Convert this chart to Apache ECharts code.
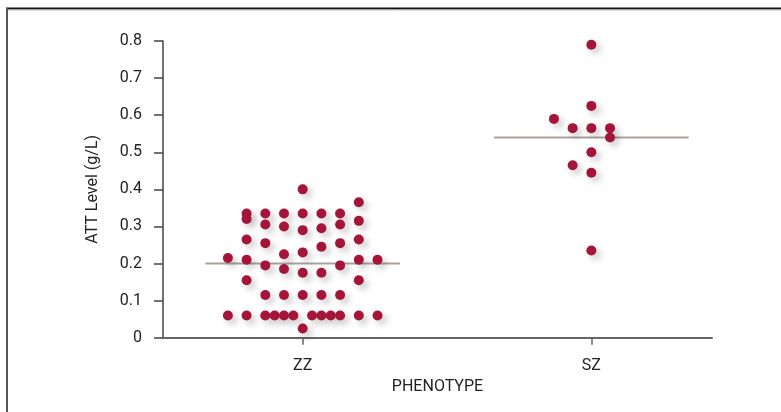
<!DOCTYPE html>
<html>
<head>
<meta charset="utf-8">
<script src="https://cdn.jsdelivr.net/npm/echarts@6/dist/echarts.min.js"></script>
<style>
  html, body { margin: 0; padding: 0; background: #fff; }
  #chart { width: 781px; height: 412px; }
</style>
</head>
<body>
<div id="chart"></div>
<script>
// Phenotype groups (positions 1 and 2 on the horizontal axis)
const categories = ['ZZ', 'SZ'];
const yTicks = [0, 0.1, 0.2, 0.3, 0.4, 0.5, 0.6, 0.7, 0.8];

// ATT level (g/L) per subject, ZZ group
const zzValues = [
  0.40,
  0.365,
  0.335, 0.335, 0.335, 0.335, 0.335, 0.335,
  0.32,
  0.305, 0.30, 0.29, 0.295, 0.305, 0.315,
  0.265, 0.255, 0.225, 0.23, 0.245, 0.255, 0.265,
  0.215, 0.21, 0.195, 0.185, 0.175, 0.175, 0.195, 0.21, 0.21,
  0.155, 0.155,
  0.115, 0.115, 0.115, 0.115, 0.115,
  0.06, 0.06, 0.06, 0.06, 0.06, 0.06, 0.06, 0.06, 0.06, 0.06, 0.06, 0.06,
  0.025
];
// Swarm column of each ZZ point (0 = centre)
const zzColumns = [
  0,
  3,
  -3, -2, -1, 0, 1, 2,
  -3,
  -2, -1, 0, 1, 2, 3,
  -3, -2, -1, 0, 1, 2, 3,
  -4, -3, -2, -1, 0, 1, 2, 3, 4,
  -3, 3,
  -2, -1, 0, 1, 2,
  -4, -3, -2, -1.5, -1, -0.5, 0.5, 1, 1.5, 2, 3, 4,
  0
];

// ATT level (g/L) per subject, SZ group
const szValues = [0.79, 0.625, 0.59, 0.565, 0.565, 0.565, 0.54, 0.50, 0.465, 0.445, 0.235];
const szColumns = [0, 0, -2, -1, 0, 1, 1, 0, -1, 0, 0];

// Group medians
const medians = [0.20, 0.54];

// Horizontal spacing of swarm columns and half-length of median bars (axis units)
const COLUMN_STEP = 0.0648;
const MEDIAN_HALF = 0.337;

function swarm(groupPos, values, cols) {
  return values.map((v, i) => [groupPos + cols[i] * COLUMN_STEP, v]);
}

const dotStyle = {
  color: '#A5153A',
  opacity: 1,
  shadowColor: 'rgba(0,0,0,0.22)',
  shadowBlur: 7,
  shadowOffsetX: 4,
  shadowOffsetY: 4
};

const medianSeries = medians.map((m, i) => ({
  type: 'line',
  data: [[i + 1 - MEDIAN_HALF, m], [i + 1 + MEDIAN_HALF, m]],
  symbol: 'none',
  lineStyle: { color: '#ABA39B', width: 2 },
  z: 1,
  silent: true
}));

const font = 'Roboto, "Noto Sans", sans-serif';

const chart = echarts.init(document.getElementById('chart'), null, { renderer: 'canvas' });
chart.setOption({
  animation: false,
  backgroundColor: '#fff',
  grid: { left: 163, right: 69, top: 41, bottom: 74.3 },
  xAxis: {
    type: 'value',
    min: 0.516,
    max: 2.418,
    splitLine: { show: false },
    name: 'PHENOTYPE',
    nameLocation: 'middle',
    nameGap: 40,
    nameTextStyle: { fontFamily: font, fontSize: 16, color: '#222' },
    axisLine: { show: true, lineStyle: { color: '#666', width: 2 } },
    axisTick: { show: true, customValues: [1, 2], length: 7, lineStyle: { color: '#666', width: 1.5 } },
    axisLabel: {
      customValues: [1, 2],
      formatter: v => categories[Math.round(v) - 1],
      margin: 20,
      fontFamily: font, fontSize: 16, color: '#222'
    }
  },
  yAxis: {
    type: 'value',
    min: yTicks[0],
    max: yTicks[yTicks.length - 1],
    interval: 0.1,
    splitLine: { show: false },
    name: 'ATT Level (g/L)',
    nameLocation: 'middle',
    nameGap: 62,
    nameTextStyle: { fontFamily: font, fontSize: 16, color: '#222' },
    axisLine: { show: true, lineStyle: { color: '#444', width: 1.5 } },
    axisTick: { show: true, length: 9, lineStyle: { color: '#444', width: 1.5 } },
    axisLabel: {
      margin: 21,
      formatter: v => String(Math.round(v * 10) / 10),
      fontFamily: font, fontSize: 16, color: '#222'
    }
  },
  graphic: [
    { type: 'line', shape: { x1: 6, y1: 8.5, x2: 781, y2: 8.5 }, style: { stroke: '#111', lineWidth: 2 } },
    { type: 'line', shape: { x1: 6, y1: 10, x2: 781, y2: 10 }, style: { stroke: '#bbb', lineWidth: 1 } },
    { type: 'line', shape: { x1: 7, y1: 8, x2: 7, y2: 412 }, style: { stroke: '#555', lineWidth: 2 } }
  ],
  series: [
    ...medianSeries,
    {
      type: 'scatter',
      data: swarm(1, zzValues, zzColumns),
      symbolSize: 10,
      itemStyle: dotStyle,
      z: 3
    },
    {
      type: 'scatter',
      data: swarm(2, szValues, szColumns),
      symbolSize: 10,
      itemStyle: dotStyle,
      z: 3
    }
  ]
});
</script>
</body>
</html>
